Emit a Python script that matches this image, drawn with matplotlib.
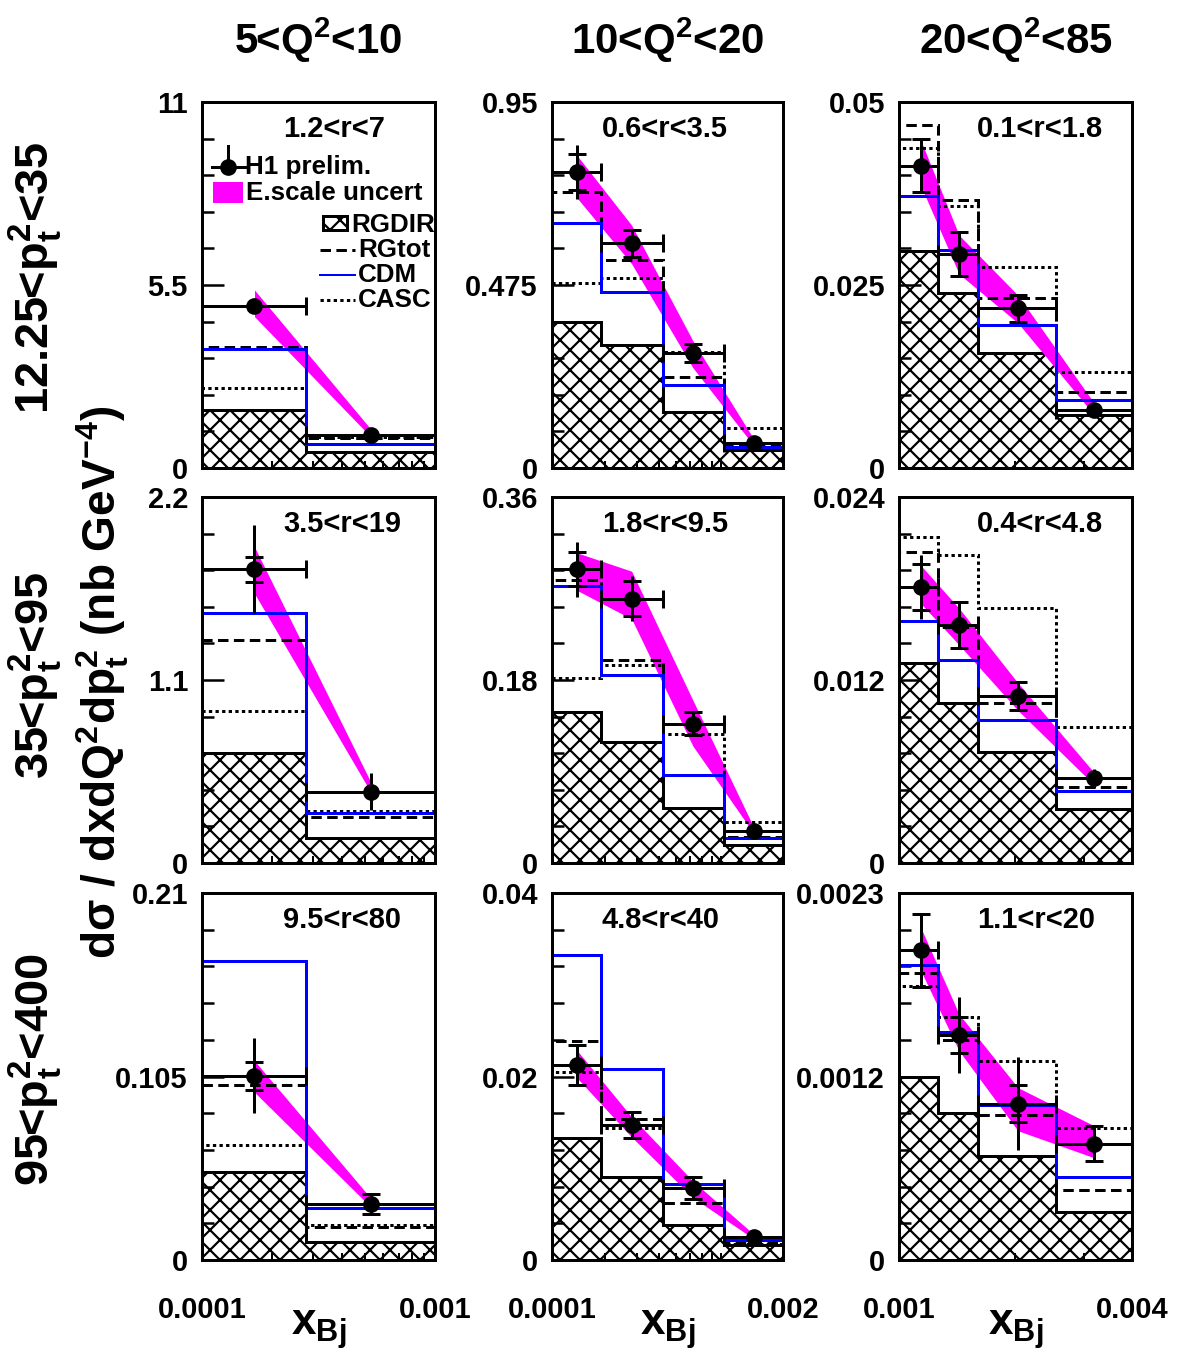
import numpy as np
import matplotlib
matplotlib.use("Agg")
import matplotlib.pyplot as plt
from matplotlib import font_manager
from matplotlib.lines import Line2D
from matplotlib.patches import Rectangle
from matplotlib.ticker import FixedLocator, LogLocator, NullFormatter

# ---- data ----
q2_labels = ["5<Q$^{2}$<10", "10<Q$^{2}$<20", "20<Q$^{2}$<85"]
pt2_labels = ["12.25<p$_{t}^{2}$<35", "35<p$_{t}^{2}$<95", "95<p$_{t}^{2}$<400"]
r_labels = [["1.2<r<7", "0.6<r<3.5", "0.1<r<1.8"],
            ["3.5<r<19", "1.8<r<9.5", "0.4<r<4.8"],
            ["9.5<r<80", "4.8<r<40", "1.1<r<20"]]

x_edges = [[1e-4, 2.8e-4, 1e-3],
           [1e-4, 1.9e-4, 4.2e-4, 9.3e-4, 2e-3],
           [1e-3, 1.26e-3, 1.6e-3, 2.55e-3, 4e-3]]
x_points = [[1.68e-4, 5.33e-4],
            [1.39e-4, 2.81e-4, 6.22e-4, 1.37e-3],
            [1.14e-3, 1.43e-3, 2.03e-3, 3.2e-3]]
x_ticklabels = [["0.0001", "0.001"], ["0.0001", "0.002"], ["0.001", "0.004"]]

y_max = [[11, 0.95, 0.05], [2.2, 0.36, 0.024], [0.21, 0.04, 0.0023]]
y_ticklabels = [[["0", "5.5", "11"], ["0", "0.475", "0.95"], ["0", "0.025", "0.05"]],
                [["0", "1.1", "2.2"], ["0", "0.18", "0.36"], ["0", "0.012", "0.024"]],
                [["0", "0.105", "0.21"], ["0", "0.02", "0.04"], ["0", "0.0012", "0.0023"]]]

h1_y = [[[4.88, 0.99], [0.768, 0.583, 0.298, 0.064], [0.0413, 0.0292, 0.0218, 0.0079]],
        [[1.765, 0.429], [0.289, 0.260, 0.137, 0.031], [0.0181, 0.0156, 0.01095, 0.00555]],
        [[0.1055, 0.0319], [0.02125, 0.0147, 0.0078, 0.0025], [0.00194, 0.00141, 0.00098, 0.00073]]]
h1_stat = [[[0.12, 0.05], [0.046, 0.035, 0.024, 0.006], [0.0036, 0.003, 0.0019, 0.0004]],
           [[0.075, 0.03], [0.017, 0.017, 0.0115, 0.003], [0.0015, 0.0015, 0.0009, 0.0005]],
           [[0.008, 0.0057], [0.0022, 0.00145, 0.0012, 0.0003], [0.00023, 0.000115, 0.000115, 0.00011]]]
h1_tot = [[[0.15, 0.06], [0.07, 0.035, 0.024, 0.008], [0.0036, 0.003, 0.0019, 0.0004]],
          [[0.265, 0.11], [0.027, 0.022, 0.0115, 0.003], [0.0021, 0.0015, 0.0009, 0.0006]],
          [[0.0215, 0.0057], [0.0022, 0.00145, 0.0012, 0.0003], [0.00023, 0.00024, 0.00029, 0.00011]]]

band_lo = [[[4.55, 0.92], [0.70, 0.53, 0.26, 0.058], [0.0385, 0.0265, 0.0198, 0.0072]],
           [[1.62, 0.42], [0.268, 0.240, 0.115, 0.029], [0.0170, 0.0143, 0.0100, 0.0051]],
           [[0.096, 0.030], [0.0198, 0.0134, 0.0068, 0.0023], [0.00181, 0.00131, 0.00081, 0.00064]]]
band_hi = [[[5.35, 1.15], [0.81, 0.63, 0.33, 0.075], [0.0447, 0.0318, 0.0236, 0.0088]],
           [[1.90, 0.48], [0.305, 0.287, 0.160, 0.035], [0.0195, 0.0167, 0.0118, 0.0059]],
           [[0.114, 0.035], [0.0228, 0.0156, 0.0086, 0.0028], [0.00208, 0.00154, 0.00108, 0.00084]]]

rgdir = [[[1.74, 0.49], [0.380, 0.319, 0.146, 0.047], [0.0296, 0.0239, 0.0157, 0.0072]],
         [[0.659, 0.148], [0.149, 0.119, 0.054, 0.0177], [0.0131, 0.0105, 0.0073, 0.00355]],
         [[0.0505, 0.0105], [0.0133, 0.0091, 0.0038, 0.0016], [0.00115, 0.00092, 0.00065, 0.0003]]]
rgtot = [[[3.65, 0.90], [0.717, 0.540, 0.237, 0.060], [0.0469, 0.0366, 0.0232, 0.0104]],
         [[1.34, 0.278], [0.278, 0.200, 0.087, 0.026], [0.0204, 0.0155, 0.0105, 0.0050]],
         [[0.0999, 0.019], [0.0239, 0.0154, 0.0062, 0.0018], [0.0018, 0.00138, 0.00091, 0.00044]]]
cdm = [[[3.58, 0.71], [0.635, 0.458, 0.215, 0.055], [0.0371, 0.0298, 0.0195, 0.0093]],
       [[1.50, 0.298], [0.272, 0.185, 0.0866, 0.0243], [0.0159, 0.0133, 0.0094, 0.0047]],
       [[0.171, 0.0299], [0.0332, 0.0208, 0.0083, 0.0022], [0.00185, 0.00143, 0.00097, 0.00052]]]
casc = [[[2.41, 0.93], [0.479, 0.492, 0.302, 0.105], [0.0437, 0.0358, 0.0275, 0.0131]],
        [[0.916, 0.314], [0.182, 0.195, 0.127, 0.0405], [0.0214, 0.0202, 0.0167, 0.0089]],
        [[0.0658, 0.020], [0.0205, 0.0144, 0.0078, 0.0017], [0.00172, 0.00152, 0.00125, 0.00083]]]

# ---- layout (pixels) ----
W, H = 1185, 1359
DPI = 120          # with hatch "xx" this gives ~20 px diamonds
col_left = [202, 552, 899]
col_w = [233, 231, 233]
row_top = [102, 497, 893]
row_h = [366, 366, 367]
txt_x = [0.348, 0.216, 0.335]


def pt(px):
    return px * 72.0 / DPI


def fxy(x, y):
    return x / W, 1 - y / H


names = {f.name for f in font_manager.fontManager.ttflist}
FONT = "Liberation Sans"
NARROW = "Liberation Sans Narrow" if "Liberation Sans Narrow" in names else FONT

plt.rcParams["font.family"] = FONT
plt.rcParams["mathtext.fontset"] = "custom"
plt.rcParams["mathtext.rm"] = FONT + ":bold"
plt.rcParams["mathtext.bf"] = FONT + ":bold"
plt.rcParams["mathtext.it"] = FONT + ":bold"
plt.rcParams["mathtext.default"] = "bf"
plt.rcParams["hatch.linewidth"] = pt(2.2)

MAG = "#ff00ff"
BLUE = "#0000ff"
LW = pt(3)
DASH = (0, (3.5, 1.8))
DOT = (0, (1.1, 1.1))
TICKFS = pt(29)
HATCH = "xx"

fig = plt.figure(figsize=(W / DPI, H / DPI), dpi=DPI)

for r in range(3):
    for c in range(3):
        ax = fig.add_axes([col_left[c] / W, 1 - (row_top[r] + row_h[r]) / H,
                           col_w[c] / W, row_h[r] / H])
        edges = np.array(x_edges[c])
        ymax = y_max[r][c]
        ax.set_xscale("log")
        ax.set_xlim(edges[0], edges[-1])
        ax.set_ylim(0, ymax)

        ax.stairs(rgdir[r][c], edges, baseline=0, fill=True, facecolor="white",
                  edgecolor="black", hatch=HATCH, linewidth=LW, zorder=1)
        ax.fill_between(x_points[c], band_lo[r][c], band_hi[r][c], color=MAG,
                        linewidth=0, zorder=2)
        ax.stairs(rgtot[r][c], edges, baseline=0, color="black", linestyle=DASH,
                  linewidth=LW, zorder=3)
        ax.stairs(casc[r][c], edges, baseline=0, color="black", linestyle=DOT,
                  linewidth=LW, zorder=3)
        ax.stairs(cdm[r][c], edges, baseline=0, color=BLUE, linewidth=LW, zorder=3)

        # data points: errors smaller than the marker are not drawn
        x = np.array(x_points[c])
        y = np.array(h1_y[r][c])
        px_per = row_h[r] / ymax
        stat = np.array(h1_stat[r][c])
        tot = np.array(h1_tot[r][c])
        stat = np.where(stat * px_per < 8, 0, stat)
        tot = np.where(tot * px_per < 8, 0, tot)
        xerr = [x - edges[:-1], edges[1:] - x]
        ax.errorbar(x, y, yerr=tot, fmt="none", ecolor="black", elinewidth=LW,
                    capsize=0, zorder=4)
        ax.errorbar(x, y, xerr=xerr, yerr=stat, fmt="o", color="black",
                    ms=pt(15), elinewidth=LW, capsize=pt(9), capthick=LW, zorder=5)

        ax.text(txt_x[c], 0.927, r_labels[r][c], transform=ax.transAxes,
                ha="left", va="center", fontsize=pt(29), fontweight="bold")

        # axes styling
        for s in ax.spines.values():
            s.set_linewidth(LW)
            s.set_zorder(6)
        ax.set_yticks([0, ymax / 2, ymax])
        ax.set_yticklabels(y_ticklabels[r][c], fontsize=TICKFS,
                           fontweight="bold", family=NARROW)
        ax.yaxis.set_minor_locator(FixedLocator(ymax * np.arange(1, 10) / 10))
        ax.tick_params(axis="y", which="major", direction="in", length=pt(22),
                       width=pt(2.5), pad=pt(14))
        ax.tick_params(axis="y", which="minor", direction="in", length=pt(12),
                       width=pt(2.5))
        ax.set_xticks([edges[0], edges[-1]])
        ax.xaxis.set_minor_locator(LogLocator(base=10, subs=np.arange(2, 10)))
        ax.xaxis.set_minor_formatter(NullFormatter())
        if r == 2:
            ax.set_xticklabels(x_ticklabels[c], fontsize=TICKFS,
                               fontweight="bold", family=NARROW)
        else:
            ax.set_xticklabels(["", ""])
        ax.tick_params(axis="x", which="major", direction="in", length=pt(12),
                       width=pt(2), pad=pt(36))
        ax.tick_params(axis="x", which="minor", direction="in", length=pt(7),
                       width=pt(2))
        ax.tick_params(top=False, right=False, which="both")

        if r == 2:
            cx = col_left[c] + col_w[c] / 2
            fig.text(*fxy(cx, 1330), "x$_{Bj}$", ha="center", va="center",
                     fontsize=pt(44), fontweight="bold")

# column and row titles
for c in range(3):
    cx = col_left[c] + col_w[c] / 2
    fig.text(*fxy(cx, 40), q2_labels[c], ha="center", va="center",
             fontsize=pt(42), fontweight="bold", family=NARROW)
row_cy = [278, 675, 1070]
for r in range(3):
    fig.text(*fxy(35, row_cy[r]), pt2_labels[r], ha="center", va="center",
             rotation=90, fontsize=pt(47), fontweight="bold")
fig.text(*fxy(103, 682), "d\u03c3 / dxdQ$^{2}$dp$_{t}^{2}$ (nb GeV$^{-4}$)",
         ha="center", va="center", rotation=90, fontsize=pt(46), fontweight="bold")

# legend drawn in the first panel
lfs = pt(26)
fig.add_artist(Line2D([fxy(212, 0)[0], fxy(245, 0)[0]], [fxy(0, 167)[1]] * 2,
                      color="black", lw=LW))
fig.add_artist(Line2D([fxy(228, 0)[0]] * 2, [fxy(0, 146)[1], fxy(0, 160)[1]],
                      color="black", lw=LW))
fig.add_artist(Line2D([fxy(228, 0)[0]], [fxy(0, 167)[1]], marker="o",
                      color="black", ms=pt(15)))
fig.text(*fxy(245, 167), "H1 prelim.", ha="left", va="center", fontsize=lfs,
         fontweight="bold")
x0, y0 = fxy(213, 203)
fig.add_artist(Rectangle((x0, y0), 30 / W, 21 / H, transform=fig.transFigure,
                         facecolor=MAG, edgecolor="none"))
fig.text(*fxy(246, 193), "E.scale uncert", ha="left", va="center", fontsize=lfs,
         fontweight="bold")
x0, y0 = fxy(323, 230)
fig.add_artist(Rectangle((x0, y0), 24 / W, 14 / H, transform=fig.transFigure,
                         facecolor="white", edgecolor="black", hatch=HATCH, lw=LW))
fig.text(*fxy(351, 225), "RGDIR", ha="left", va="center", fontsize=lfs,
         fontweight="bold")
leg = [(250, "RGtot", "black", DASH), (275, "CDM", BLUE, "-"),
       (300, "CASC", "black", DOT)]
for yy, lab, col, ls in leg:
    fig.add_artist(Line2D([fxy(320, 0)[0], fxy(355, 0)[0]], [fxy(0, yy)[1]] * 2,
                          color=col, lw=LW if col == "black" else pt(2), ls=ls))
    fig.text(*fxy(358, yy), lab, ha="left", va="center", fontsize=lfs,
             fontweight="bold")

fig.savefig("out.png", dpi=DPI)
